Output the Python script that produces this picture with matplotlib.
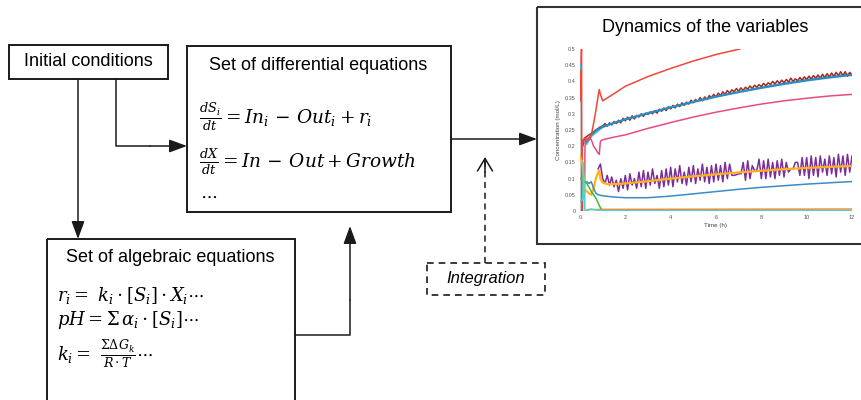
import numpy as np
import matplotlib
matplotlib.use("Agg")
import matplotlib.pyplot as plt
from matplotlib.patches import Rectangle

plt.rcParams['font.family'] = ['Liberation Sans', 'DejaVu Sans']
plt.rcParams['mathtext.fontset'] = 'dejavuserif'

# ---- donnees du petit graphique "Dynamics of the variables" ----
t_red = [0, 0.03, 0.06, 0.07, 0.08, 0.1, 0.15, 0.2, 0.3, 0.4, 0.5, 0.6, 0.7, 0.8,
         0.85, 0.9, 1.0, 1.5, 2, 3, 4, 5, 6, 7.05]
red = [0.34, 0.37, 0.5, 0.5, 0.0, 0.2, 0.22, 0.225, 0.22, 0.22, 0.235, 0.27, 0.31, 0.355,
       0.375, 0.36, 0.34, 0.362, 0.385, 0.415, 0.44, 0.463, 0.483, 0.5]

t_darkred_start = [0.12, 0.2, 0.3, 0.4, 0.5, 0.6, 0.7, 0.8, 0.9, 1.0]
darkred_start = [0.2, 0.225, 0.23, 0.235, 0.24, 0.245, 0.25, 0.255, 0.26, 0.262]

# trace bruite (pas de 0.1 h entre 1 et 12 h)
darkred = [
    0.262, 0.270, 0.262, 0.272, 0.266, 0.276, 0.270, 0.280, 0.272, 0.286,
    0.278, 0.290, 0.280, 0.294, 0.284, 0.295, 0.290, 0.300, 0.292, 0.302,
    0.298, 0.306, 0.300, 0.310, 0.302, 0.314, 0.308, 0.318, 0.310, 0.322,
    0.315, 0.326, 0.318, 0.330, 0.322, 0.334, 0.326, 0.336, 0.330, 0.342,
    0.334, 0.344, 0.338, 0.350, 0.340, 0.352, 0.344, 0.356, 0.350, 0.360,
    0.352, 0.364, 0.356, 0.368, 0.360, 0.372, 0.364, 0.374, 0.368, 0.378,
    0.370, 0.380, 0.372, 0.382, 0.376, 0.386, 0.378, 0.388, 0.382, 0.390,
    0.384, 0.394, 0.386, 0.396, 0.390, 0.400, 0.392, 0.402, 0.394, 0.404,
    0.396, 0.406, 0.398, 0.410, 0.400, 0.408, 0.402, 0.412, 0.404, 0.414,
    0.406, 0.416, 0.408, 0.418, 0.410, 0.420, 0.410, 0.422, 0.412, 0.424,
    0.414, 0.426, 0.416, 0.428, 0.418, 0.430, 0.418, 0.430, 0.416, 0.428,
    0.418]

t_teal = [0.25, 0.3, 0.4, 0.5, 0.75, 1, 1.5, 2, 3, 4, 5, 6, 7, 8, 9, 10, 11, 12]
teal = [0.21, 0.215, 0.225, 0.235, 0.25, 0.26, 0.272, 0.283, 0.302, 0.32, 0.337, 0.353,
        0.367, 0.38, 0.392, 0.403, 0.412, 0.42]
t_cyanline = [0.3, 0.5, 1, 2, 3, 4, 5, 6, 7, 8, 9, 10, 11, 12]
cyanline = [0.205, 0.23, 0.258, 0.282, 0.3, 0.318, 0.336, 0.352, 0.368, 0.382, 0.395,
            0.406, 0.416, 0.424]

t_pink = [0.2, 0.22, 0.25, 0.3, 0.4, 0.5, 0.6, 0.7, 0.8, 0.85, 0.9, 1.0, 1.5, 2, 3, 4, 5,
          6, 7, 8, 9, 10, 11, 12]
pink = [0.0, 0.2, 0.22, 0.225, 0.225, 0.22, 0.2, 0.19, 0.178, 0.175, 0.215, 0.22, 0.228,
        0.235, 0.255, 0.273, 0.29, 0.305, 0.318, 0.33, 0.34, 0.348, 0.355, 0.36]

# trace bruite violette (pas de 0.1 h entre 0.8 et 12 h)
purple = [
    0.13, 0.145, 0.10, 0.085, 0.11, 0.08, 0.105, 0.075, 0.095, 0.06,
    0.10, 0.07, 0.11, 0.065, 0.115, 0.08, 0.10, 0.07, 0.12, 0.075,
    0.125, 0.07, 0.12, 0.08, 0.13, 0.085, 0.11, 0.07, 0.125, 0.075,
    0.13, 0.08, 0.135, 0.075, 0.13, 0.09, 0.14, 0.085, 0.12, 0.08,
    0.135, 0.09, 0.14, 0.085, 0.13, 0.095, 0.145, 0.09, 0.135, 0.085,
    0.14, 0.09, 0.145, 0.095, 0.14, 0.09, 0.15, 0.10, 0.145, 0.11,
    0.11, 0.112, 0.115, 0.115, 0.15, 0.095, 0.155, 0.10, 0.14, 0.125,
    0.125, 0.16, 0.10, 0.155, 0.10, 0.16, 0.105, 0.15, 0.10, 0.155,
    0.11, 0.16, 0.105, 0.15, 0.12, 0.13, 0.13, 0.15, 0.15, 0.11,
    0.165, 0.11, 0.165, 0.10, 0.17, 0.11, 0.165, 0.105, 0.17, 0.12,
    0.16, 0.11, 0.17, 0.115, 0.165, 0.105, 0.175, 0.12, 0.17, 0.11,
    0.175, 0.12, 0.17]

t_gold = [0, 0.1, 0.2, 0.3, 0.4, 0.5, 0.6, 0.7, 0.8, 0.85, 0.9, 1.0, 1.2, 1.5, 2, 3, 4, 5,
          6, 7, 8, 9, 10, 11, 12]
gold = [0.17, 0.15, 0.07, 0.06, 0.055, 0.05, 0.07, 0.1, 0.12, 0.125, 0.1, 0.088, 0.083,
        0.083, 0.085, 0.092, 0.1, 0.107, 0.113, 0.119, 0.124, 0.129, 0.133, 0.136, 0.139]

t_blue = [0.3, 0.4, 0.5, 0.6, 0.7, 0.8, 1.0, 1.5, 2, 3, 4, 5, 6, 7, 8, 9, 10, 11, 12]
blue = [0.09, 0.085, 0.09, 0.07, 0.055, 0.05, 0.047, 0.043, 0.041, 0.041, 0.046, 0.053,
        0.06, 0.067, 0.073, 0.078, 0.083, 0.087, 0.091]

t_green = [0, 0.05, 0.3, 0.5, 0.6, 0.7, 0.8, 0.9, 1.0, 1.1]
green = [0.1, 0.1, 0.085, 0.06, 0.05, 0.04, 0.025, 0.01, 0.002, 0.0]

t_gray = [0.04, 0.04]
gray = [0.45, 0.0]

t_cyan = [0, 0.12, 0.15, 0.2, 0.3, 0.4, 0.5, 0.7, 1.0, 2, 12]
cyan = [0.03, 0.035, 0.15, 0.0, 0.0, 0.005, 0.006, 0.003, 0.001, 0.001, 0.001]
t_cyan_dot = [0, 0.02]
cyan_dot = [0.45, 0.44]

t_orange = [0.3, 1, 12]
orange = [0.004, 0.005, 0.006]

x_ticks = [0, 2, 4, 6, 8, 10, 12]
y_ticks = [0, 0.05, 0.1, 0.15, 0.2, 0.25, 0.3, 0.35, 0.4, 0.45, 0.5]
y_ticklabels = ['0', '0.05', '0.1', '0.15', '0.2', '0.25', '0.3', '0.35', '0.4', '0.45', '0.5']

# ---- figure et schema (coordonnees en pixels) ----
fig = plt.figure(figsize=(8.62, 4.0), dpi=100)
ax = fig.add_axes([0, 0, 1, 1])
ax.set_xlim(0, 862)
ax.set_ylim(400, 0)
ax.axis('off')

k = '#1a1a1a'
def boite(x0, y0, x1, y1, **kw):
    ax.add_patch(Rectangle((x0, y0), x1 - x0, y1 - y0, fill=False, edgecolor=k,
                           lw=kw.get('lw', 1.4), ls=kw.get('ls', '-')))

def fleche(x0, y0, x1, y1):
    ax.annotate('', xy=(x1, y1), xytext=(x0, y0),
                arrowprops=dict(arrowstyle='-|>,head_length=0.6,head_width=0.22',
                                mutation_scale=18, color=k, lw=1.1,
                                shrinkA=0, shrinkB=0))

boite(9, 45, 168, 79)
ax.text(88.5, 62, 'Initial conditions', fontsize=13, ha='center', va='center')

boite(187, 46, 451, 212)
ax.text(318, 65, 'Set of differential equations', fontsize=13, ha='center', va='center')
ax.text(199, 117, r'$\frac{dS_i}{dt} = In_i\, -\, Out_i + r_i$', fontsize=13.3, va='center')
ax.text(199, 162, r'$\frac{dX}{dt} = In\, -\, Out + Growth$', fontsize=13.3, va='center')
ax.text(200, 196, r'$\cdots$', fontsize=13.3, va='center')

boite(47, 239, 295, 420)
ax.text(170, 258, 'Set of algebraic equations', fontsize=13, ha='center', va='center')
ax.text(57, 295, r'$r_i =\ k_i \cdot [S_i] \cdot X_i \cdots$', fontsize=13, va='center')
ax.text(57, 320, r'$pH = \Sigma\, \alpha_i \cdot [S_i] \cdots$', fontsize=13, va='center')
ax.text(57, 354, r'$k_i =\ \frac{\Sigma \Delta G_k}{R \cdot T} \cdots$', fontsize=13, va='center')

# connecteurs
ax.plot([116, 116, 150], [79, 146, 146], color=k, lw=1.1)
fleche(150, 146, 187, 146)
fleche(78, 79, 78, 239)
fleche(451, 139, 537, 139)
ax.plot([295, 350, 350], [335, 335, 300], color=k, lw=1.1)
fleche(350, 300, 350, 226)

boite(427, 263, 545, 295, lw=1.2, ls=(0, (4, 3)))
ax.text(486, 279, 'Integration', fontsize=12, style='italic', ha='center', va='center')
ax.plot([485, 485], [263, 160], color=k, lw=1.1, ls=(0, (4, 3)))
ax.annotate('', xy=(485, 157), xytext=(485, 172),
            arrowprops=dict(arrowstyle='->,head_length=0.5,head_width=0.3',
                            mutation_scale=18, color=k, lw=1.1, shrinkA=0, shrinkB=0))

# cadre du graphique
ax.add_patch(Rectangle((537, 7), 340, 237, fill=False, edgecolor='#333333', lw=1.5))
ax.text(705, 27, 'Dynamics of the variables', fontsize=13, ha='center', va='center')

# ---- le graphique lui-meme ----
g = fig.add_axes([580 / 862, 1 - 211 / 400, 272 / 862, 162 / 400])
g.patch.set_alpha(0)
lw = 1.1
g.plot(t_gray, gray, color='#c8c8c8', lw=1.5)
g.plot(t_cyanline, cyanline, color='#55cde6', lw=lw)
g.plot(t_darkred_start, darkred_start, color='#a52a22', lw=lw)
g.plot(np.linspace(1.0, 12.0, len(darkred)), darkred, color='#a52a22', lw=lw)
g.plot(t_teal, teal, color='#2b8cc4', lw=1.6)
g.plot(t_red, red, color='#f2463c', lw=lw)
g.plot(t_pink, pink, color='#e94b80', lw=lw)
g.plot(np.linspace(0.8, 12.0, len(purple)), purple, color='#7b2d9e', lw=lw)
g.plot(t_gold, gold, color='#ffb01a', lw=1.6)
g.plot(t_blue, blue, color='#3b8bc2', lw=lw)
g.plot(t_green, green, color='#3cb83c', lw=lw)
g.plot(t_orange, orange, color='#f08a3c', lw=lw)
g.plot(t_cyan, cyan, color='#44d8d8', lw=lw)
g.plot(t_cyan_dot, cyan_dot, color='#44b8d8', lw=1.5)

g.set_xlim(0, 12)
g.set_ylim(0, 0.5)
g.set_xticks(x_ticks)
g.set_yticks(y_ticks)
g.set_yticklabels(y_ticklabels)
g.tick_params(length=0, labelsize=4, colors='#555555', pad=3)
for s in g.spines.values():
    s.set_visible(False)
g.set_xlabel('Time (h)', fontsize=4.5, color='#444444', labelpad=2)
g.set_ylabel('Concentration (mol/L)', fontsize=4.5, color='#444444', labelpad=3)

fig.savefig('out.png', dpi=100)
